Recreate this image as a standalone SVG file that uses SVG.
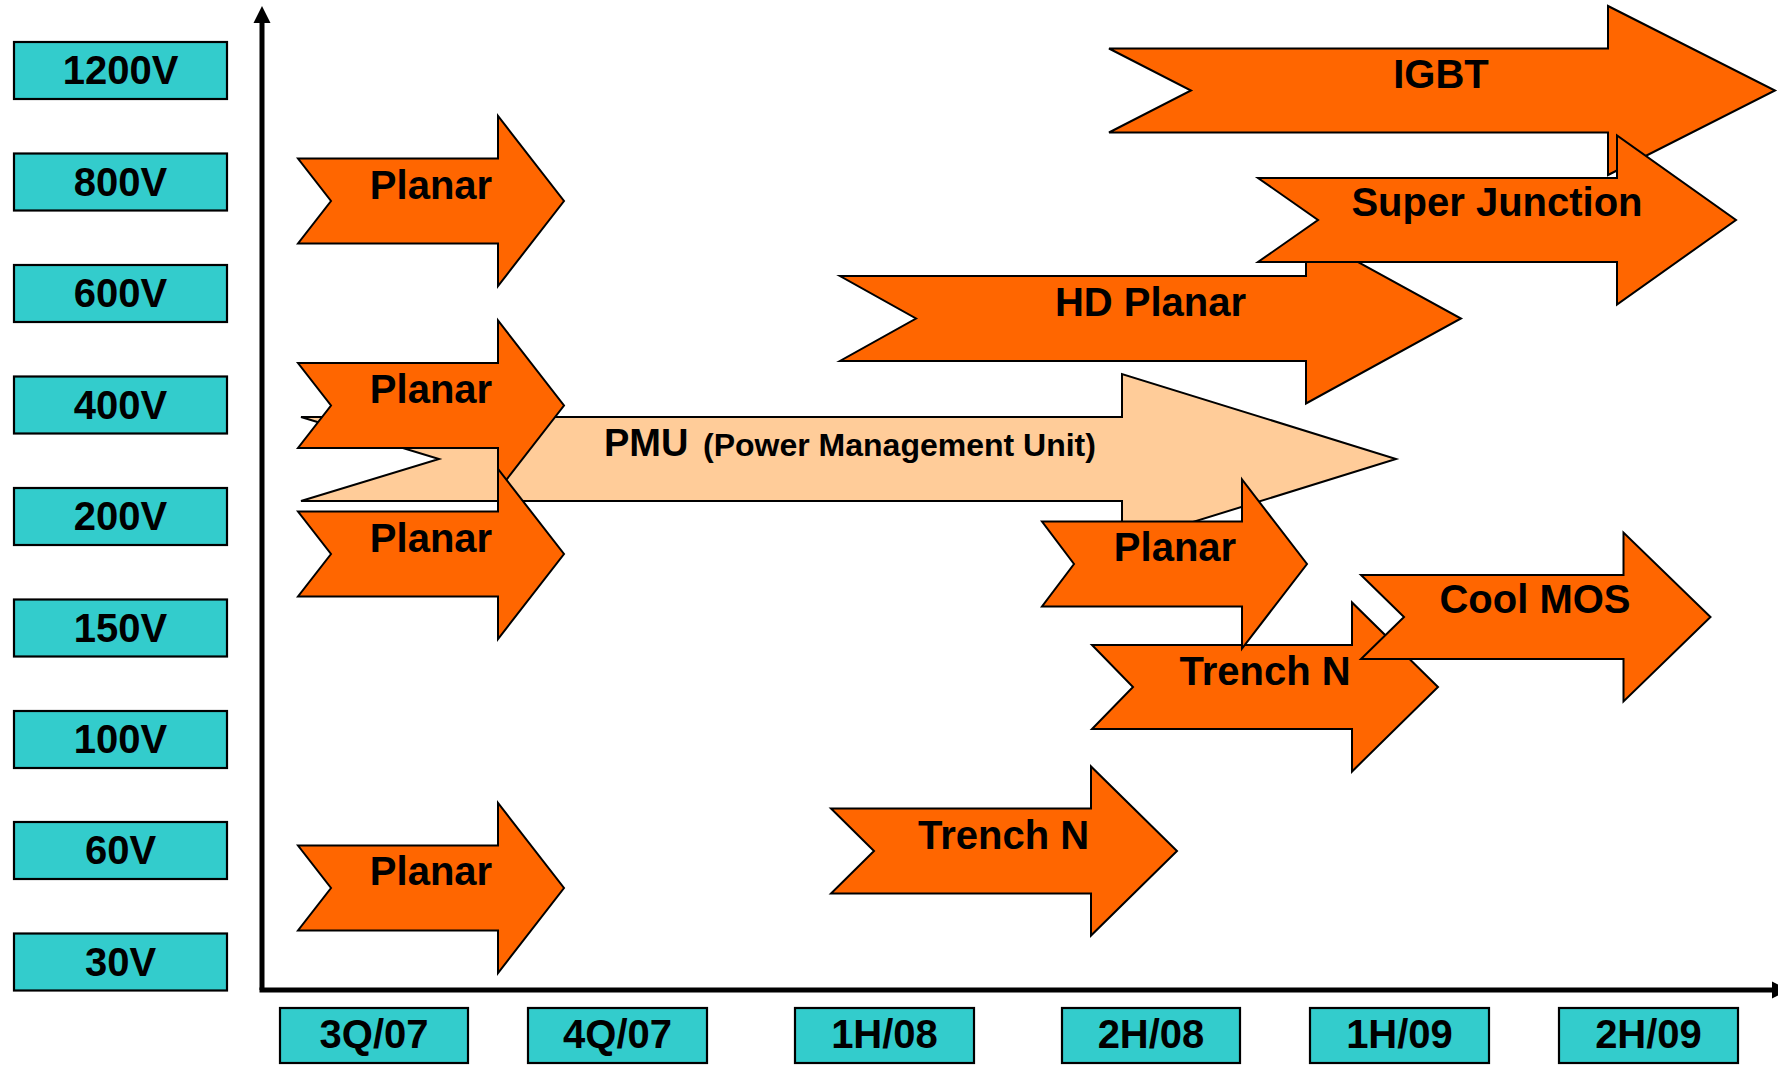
<svg xmlns="http://www.w3.org/2000/svg" width="1778" height="1065" viewBox="0 0 1778 1065">
<style>
.lbl{fill:#33CCCC;stroke:#000;stroke-width:2.2}
.t{font-family:"Liberation Sans",Arial,sans-serif;font-weight:bold;font-size:40px;text-anchor:middle;fill:#000}
.arr{fill:#FF6600;stroke:#000;stroke-width:2;stroke-linejoin:miter}
.pmu{fill:#FFCC99;stroke:#000;stroke-width:2}
.axis{stroke:#000;stroke-width:5;fill:none}
</style>
<rect width="1778" height="1065" fill="#fff"/>
<g id="axes">
<line class="axis" x1="262" y1="20" x2="262" y2="990"/>
<line class="axis" x1="259.5" y1="990" x2="1775" y2="990"/>
<polygon points="262,6 270.5,23 253.5,23" fill="#000"/>
<polygon points="1789,990 1772,981.5 1772,998.5" fill="#000"/>
</g>
<g id="voltage-labels">
<g id="v1200"><rect class="lbl" x="14" y="42" width="213" height="57"/><text class="t" x="120.5" y="84">1200V</text></g>
<g id="v800"><rect class="lbl" x="14" y="153.5" width="213" height="57"/><text class="t" x="120.5" y="195.5">800V</text></g>
<g id="v600"><rect class="lbl" x="14" y="265" width="213" height="57"/><text class="t" x="120.5" y="307">600V</text></g>
<g id="v400"><rect class="lbl" x="14" y="376.5" width="213" height="57"/><text class="t" x="120.5" y="418.5">400V</text></g>
<g id="v200"><rect class="lbl" x="14" y="488" width="213" height="57"/><text class="t" x="120.5" y="530">200V</text></g>
<g id="v150"><rect class="lbl" x="14" y="599.5" width="213" height="57"/><text class="t" x="120.5" y="641.5">150V</text></g>
<g id="v100"><rect class="lbl" x="14" y="711" width="213" height="57"/><text class="t" x="120.5" y="753">100V</text></g>
<g id="v60"><rect class="lbl" x="14" y="822" width="213" height="57"/><text class="t" x="120.5" y="864">60V</text></g>
<g id="v30"><rect class="lbl" x="14" y="933.5" width="213" height="57"/><text class="t" x="120.5" y="975.5">30V</text></g>
</g>
<g id="time-labels">
<g id="t3q07"><rect class="lbl" x="280" y="1008" width="188" height="55"/><text class="t" x="374" y="1048">3Q/07</text></g>
<g id="t4q07"><rect class="lbl" x="528" y="1008" width="179" height="55"/><text class="t" x="617.5" y="1048">4Q/07</text></g>
<g id="t1h08"><rect class="lbl" x="795" y="1008" width="179" height="55"/><text class="t" x="884.5" y="1048">1H/08</text></g>
<g id="t2h08"><rect class="lbl" x="1062" y="1008" width="178" height="55"/><text class="t" x="1151" y="1048">2H/08</text></g>
<g id="t1h09"><rect class="lbl" x="1310" y="1008" width="179" height="55"/><text class="t" x="1399.5" y="1048">1H/09</text></g>
<g id="t2h09"><rect class="lbl" x="1559" y="1008" width="179" height="55"/><text class="t" x="1648.5" y="1048">2H/09</text></g>
</g>
<g id="pmu">
<polygon class="pmu" points="301,417 1122,417 1122,374 1396,459 1122,544 1122,501 301,501 439,459"/>
<text class="t" style="text-anchor:start" x="604" y="456"><tspan font-size="38">PMU</tspan><tspan x="703" font-size="32">(Power Management Unit)</tspan></text>
</g>
<g id="planar-800v">
<polygon class="arr" points="298,158.5 498,158.5 498,116 564,201 498,286 498,243.5 298,243.5 331,201"/>
<text class="t" x="431" y="199">Planar</text>
</g>
<g id="planar-400v">
<polygon class="arr" points="298,363 498,363 498,320.5 564,405.5 498,490.5 498,448 298,448 331,405.5"/>
<text class="t" x="431" y="403">Planar</text>
</g>
<g id="planar-200v">
<polygon class="arr" points="298,511.5 498,511.5 498,469 564,554 498,639 498,596.5 298,596.5 331,554"/>
<text class="t" x="431" y="552">Planar</text>
</g>
<g id="planar-60v">
<polygon class="arr" points="298,845.5 498,845.5 498,803 564,888 498,973 498,930.5 298,930.5 331,888"/>
<text class="t" x="431" y="885">Planar</text>
</g>
<g id="igbt">
<polygon class="arr" points="1109,48.5 1608,48.5 1608,6 1775,90.5 1608,175 1608,132.5 1109,132.5 1191,90.5"/>
<text class="t" x="1441" y="88">IGBT</text>
</g>
<g id="hd-planar">
<polygon class="arr" points="840,276 1306,276 1306,233.5 1461,318.5 1306,403.5 1306,361 840,361 916,318.5"/>
<text class="t" x="1150.5" y="316">HD Planar</text>
</g>
<g id="super-junction">
<polygon class="arr" points="1258,178 1617,178 1617,135.5 1736,220 1617,304.5 1617,262 1258,262 1318,220"/>
<text class="t" x="1497" y="216">Super Junction</text>
</g>
<g id="trench-n-60v">
<polygon class="arr" points="831,808.5 1091,808.5 1091,766.5 1177,851 1091,935.5 1091,893.5 831,893.5 874,851"/>
<text class="t" x="1003.5" y="849">Trench N</text>
</g>
<g id="trench-n-150v">
<polygon class="arr" points="1092,645 1352,645 1352,602.5 1438,687 1352,771.5 1352,729 1092,729 1133,687"/>
<text class="t" x="1265" y="685">Trench N</text>
</g>
<g id="planar-2h08">
<polygon class="arr" points="1042,521.5 1242,521.5 1242,479.5 1307,564 1242,648.5 1242,606.5 1042,606.5 1074,564"/>
<text class="t" x="1175" y="561">Planar</text>
</g>
<g id="cool-mos">
<polygon class="arr" points="1361,575 1623.5,575 1623.5,532.5 1710.5,617 1623.5,701.5 1623.5,659 1361,659 1404,617"/>
<text class="t" x="1535" y="613">Cool MOS</text>
</g>
<g id="connectors"></g>
</svg>
